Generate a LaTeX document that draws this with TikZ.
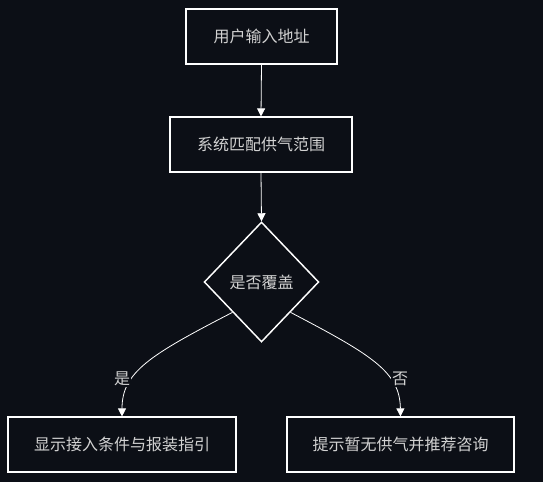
\documentclass[tikz,border=0pt]{standalone}
\usepackage{fontspec}
\newfontfamily\cjk{Noto Sans CJK SC}
\usetikzlibrary{arrows.meta,shapes.geometric}
\definecolor{bg}{HTML}{0C0F16}
\definecolor{ink}{HTML}{D2D2D2}

\begin{document}
\begin{tikzpicture}[x=0.75pt,y=-0.75pt,
	box/.style={draw=white, line width=1.1pt, fill=bg, text=ink, font=\cjk\fontsize{12}{14}\selectfont, minimum height=41pt, inner sep=0pt},
	decide/.style={box, diamond, minimum width=86pt, minimum height=90pt},
	flow/.style={draw=white, line width=0.6pt, -{Triangle[width=6pt,length=6pt]}},
	lbl/.style={fill=bg, text=ink, font=\cjk\fontsize{12}{14}\selectfont, inner sep=1pt}]
		%%%%% START %%%%%
		\fill[bg] (0,0) rectangle (543,482);
		\useasboundingbox (0,0) rectangle (543,482);
		
		\node[box, minimum width=113pt] (addr) at (261.5,36.5) {用户输入地址};
		\node[box, minimum width=136.5pt] (match) at (261,144.5) {系统匹配供气范围};
		\node[decide] (cover) at (261.5,282) {是否覆盖};
		\node[box, minimum width=171pt] (guide) at (122,444.5) {显示接入条件与报装指引};
		\node[box, minimum width=170pt] (nogas) at (400.5,444.5) {提示暂无供气并推荐咨询};
		
		\draw[flow] (addr.south) -- (match.north);
		\draw[flow] (match.south) -- (cover.north);
		
		\draw[flow] (cover.south west) .. controls (150,355) and (122,372) .. (guide.north);
		\node[lbl] (yes) at (122,379) {是};
		
		\draw[flow] (cover.south east) .. controls (372,355) and (400,372) .. (nogas.north);
		\node[lbl] (no) at (400,379) {否};
		%%%%% END %%%%%
\end{tikzpicture}
\end{document}
